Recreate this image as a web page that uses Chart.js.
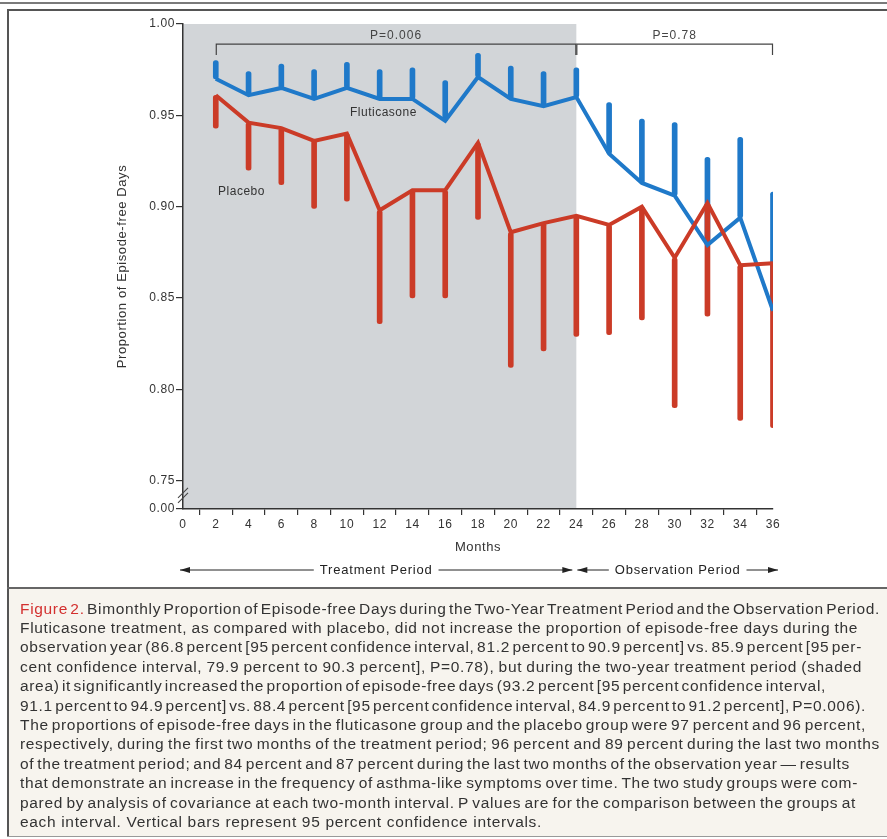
<!DOCTYPE html>
<html><head><meta charset="utf-8">
<script src="https://cdn.jsdelivr.net/npm/chart.js@4.4.0/dist/chart.umd.min.js"></script>
<style>
html,body{margin:0;padding:0;background:#fff;}
#wrap{position:relative;width:887px;height:839px;overflow:hidden;background:#fff;}
#chartBox{position:absolute;left:0;top:0;width:887px;height:588px;}
.rule{position:absolute;background:#555;}
#cap{position:absolute;left:8px;top:589px;width:879px;height:247px;background:#f7f4ee;}
.ln{position:absolute;left:20px;white-space:nowrap;font-family:'Liberation Sans',Arial,sans-serif;font-size:15.5px;line-height:19px;color:#333;}
.ln .red{color:#d3302f;}
</style></head>
<body><div id="wrap">
<div id="chartBox"><canvas id="c"></canvas></div>
<div class="rule" style="left:0;top:2px;width:887px;height:2px;background:#7a7a7a"></div>
<div class="rule" style="left:7px;top:9px;width:880px;height:2px;background:#555"></div>
<div id="cap"></div>
<div class="rule" style="left:7px;top:9px;width:2px;height:828px;background:#555"></div>
<div class="rule" style="left:7px;top:587px;width:880px;height:2px;background:#666"></div>
<div class="rule" style="left:7px;top:836px;width:880px;height:1px;background:#999"></div>
</div>
<script>
// ---- data ----
const months = [2,4,6,8,10,12,14,16,18,20,22,24,26,28,30,32,34,36];
const flutMean  = [0.970,0.961,0.965,0.959,0.965,0.959,0.959,0.947,0.971,0.959,0.955,0.960,0.929,0.913,0.906,0.879,0.894,0.843];
const flutUpper = [0.980,0.974,0.978,0.975,0.979,0.975,0.976,0.969,0.984,0.977,0.974,0.976,0.957,0.948,0.946,0.927,0.938,0.908];
const placMean  = [0.961,0.946,0.943,0.936,0.940,0.898,0.909,0.909,0.935,0.886,0.891,0.895,0.890,0.900,0.872,0.902,0.868,0.869];
const placLower = [0.943,0.920,0.912,0.899,0.903,0.836,0.850,0.850,0.893,0.812,0.821,0.829,0.830,0.838,0.790,0.840,0.783,0.779];
const yTickValues = [0.7345,0.75,0.80,0.85,0.90,0.95,1.00];
const yTickLabels = ['0.00','0.75','0.80','0.85','0.90','0.95','1.00'];
const treatmentSpan = [0,24];
const observationSpan = [24,36];
const pBrackets = [{from:2,to:24,label:'P=0.006'},{from:24,to:36,label:'P=0.78'}];
const seriesNames = ['Fluticasone','Placebo'];
const periodNames = ['Treatment Period','Observation Period'];

const BLUE='#1f79c9', RED='#cb3b27', SHADE='#d2d5d8', INK='#333';

// caption
const capLines = [
 'Bimonthly Proportion of Episode-free Days during the Two-Year Treatment Period and the Observation Period.',
 'Fluticasone treatment, as compared with placebo, did not increase the proportion of episode-free days during the',
 'observation year (86.8 percent [95 percent confidence interval, 81.2 percent to 90.9 percent] vs. 85.9 percent [95 per-',
 'cent confidence interval, 79.9 percent to 90.3 percent], P=0.78), but during the two-year treatment period (shaded',
 'area) it significantly increased the proportion of episode-free days (93.2 percent [95 percent confidence interval,',
 '91.1 percent to 94.9 percent] vs. 88.4 percent [95 percent confidence interval, 84.9 percent to 91.2 percent], P=0.006).',
 'The proportions of episode-free days in the fluticasone group and the placebo group were 97 percent and 96 percent,',
 'respectively, during the first two months of the treatment period; 96 percent and 89 percent during the last two months',
 'of the treatment period; and 84 percent and 87 percent during the last two months of the observation year \u2014 results',
 'that demonstrate an increase in the frequency of asthma-like symptoms over time. The two study groups were com-',
 'pared by analysis of covariance at each two-month interval. P values are for the comparison between the groups at',
 'each interval. Vertical bars represent 95 percent confidence intervals.'
];
const capRight = [880,858,862,862,826,866,866,880,850,858,856,542];
const wrap = document.getElementById('wrap');
const capDivs = capLines.map((t,i)=>{
  const d=document.createElement('div'); d.className='ln';
  d.style.top=(608+19.4*i-9.5)+'px';
  if(i===0){ const s=document.createElement('span'); s.className='red'; s.textContent='Figure 2.'; d.appendChild(s); d.appendChild(document.createTextNode(' '+t)); }
  else d.textContent=t;
  wrap.appendChild(d);
  return d;
});
const lastI = capLines.length-1;
const lastW = capDivs[lastI].getBoundingClientRect().width;
const ls = (capRight[lastI]-20-lastW)/capLines[lastI].length;
capDivs.forEach(d=>{ d.style.letterSpacing = ls+'px'; });
capDivs.forEach((d,i)=>{
  if(i===lastI) return;
  const w=d.getBoundingClientRect().width;
  const full = i===0 ? 'Figure 2. '+capLines[i] : capLines[i];
  const n=(full.match(/ /g)||[]).length;
  d.style.wordSpacing=((capRight[i]-20-w)/n)+'px';
});

const FONT = "'Liberation Sans', Arial, sans-serif";

const decor = {
  id:'decor',
  beforeDraw(chart){
    const {ctx, chartArea:a, scales:{x}} = chart;
    ctx.letterSpacing='0.6px';
    const x0=x.getPixelForValue(treatmentSpan[0]), x1=x.getPixelForValue(treatmentSpan[1]);
    ctx.save(); ctx.fillStyle=SHADE; ctx.fillRect(x0, a.top, x1-x0, a.bottom-a.top); ctx.restore();
  },
  afterDraw(chart){
    const {ctx, chartArea:a, scales:{x,y}} = chart;
    ctx.save();
    // brackets
    ctx.strokeStyle='#444'; ctx.lineWidth=1.2; ctx.fillStyle='#444';
    ctx.font="12px "+FONT; ctx.letterSpacing='1px'; ctx.textAlign='center'; ctx.textBaseline='middle';
    const yb=y.getPixelForValue(0.989), ye=y.getPixelForValue(0.983), yt=y.getPixelForValue(0.9935);
    pBrackets.forEach(b=>{
      const p0=x.getPixelForValue(b.from), p1=x.getPixelForValue(b.to);
      ctx.beginPath(); ctx.moveTo(p0+0.5,ye); ctx.lineTo(p0+0.5,yb); ctx.lineTo(p1-0.5,yb); ctx.lineTo(p1-0.5,ye); ctx.stroke();
      ctx.fillText(b.label,(p0+p1)/2,yt);
    });
    // series labels
    ctx.fillStyle=INK; ctx.font="12px "+FONT; ctx.letterSpacing='0.5px';
    ctx.fillText(seriesNames[0], x.getPixelForValue(12.23), y.getPixelForValue(0.9515));
    ctx.fillText(seriesNames[1], x.getPixelForValue(3.57), y.getPixelForValue(0.9083));
    // axis break
    const bx=a.left, by=y.getPixelForValue(0.742);
    ctx.strokeStyle='#444'; ctx.lineWidth=1.1;
    [-2.5,2.5].forEach(o=>{ ctx.beginPath(); ctx.moveTo(bx-5,by+o+5); ctx.lineTo(bx+5,by+o-5); ctx.stroke(); });
    // period arrows
    const ay=570;
    ctx.font="13px "+FONT; ctx.letterSpacing='0.8px'; ctx.fillStyle='#222'; ctx.strokeStyle='#222'; ctx.lineWidth=1;
    const arrowHead=(tx,dir)=>{ ctx.beginPath(); ctx.moveTo(tx,ay); ctx.lineTo(tx-dir*10,ay-3); ctx.lineTo(tx-dir*10,ay+3); ctx.closePath(); ctx.fill(); };
    const seg=(l,r,label)=>{
      const c=(l+r)/2, w=ctx.measureText(label).width/2+6;
      ctx.fillText(label,c,ay);
      ctx.beginPath(); ctx.moveTo(l,ay); ctx.lineTo(c-w,ay); ctx.moveTo(c+w,ay); ctx.lineTo(r,ay); ctx.stroke();
      arrowHead(l,-1); arrowHead(r,1);
    };
    seg(x.getPixelForValue(treatmentSpan[0])-3, x.getPixelForValue(treatmentSpan[1])-4, periodNames[0]);
    seg(x.getPixelForValue(observationSpan[0])+1, x.getPixelForValue(observationSpan[1])+5, periodNames[1]);
    ctx.restore();
    ctx.letterSpacing='0px';
  }
};

new Chart(document.getElementById('c'), {
  type:'line',
  data:{datasets:[
    {type:'line',label:'Placebo',data:months.map((m,i)=>({x:m,y:placMean[i]})),borderColor:RED,borderWidth:4,pointRadius:0,tension:0,fill:false,order:1,borderJoinStyle:'miter'},
    {type:'line',label:'Fluticasone',data:months.map((m,i)=>({x:m,y:flutMean[i]})),borderColor:BLUE,borderWidth:4,pointRadius:0,tension:0,fill:false,order:2,borderJoinStyle:'miter'},
    {type:'bar',label:'Placebo 95% CI',data:months.map((m,i)=>({x:m,y:[placLower[i],placMean[i]]})),backgroundColor:RED,barThickness:5,grouped:false,borderRadius:2.5,borderSkipped:false,order:3},
    {type:'bar',label:'Fluticasone 95% CI',data:months.map((m,i)=>({x:m,y:[flutMean[i],flutUpper[i]]})),backgroundColor:BLUE,barThickness:5,grouped:false,borderRadius:2.5,borderSkipped:false,order:4}
  ]},
  options:{
    responsive:true, maintainAspectRatio:false, animation:false,
    layout:{padding:{left:110,right:114,top:24,bottom:30}},
    plugins:{legend:{display:false},tooltip:{enabled:false}},
    scales:{
      x:{type:'linear',min:0,max:36,offset:false,
        afterFit:s=>{s.height=49;},
        ticks:{stepSize:2,color:INK,font:{size:12,family:FONT},padding:2,maxRotation:0,autoSkip:false},
        grid:{display:true,drawOnChartArea:false,drawTicks:true,tickLength:6,color:'#333',lineWidth:1.2},
        border:{display:true,color:'#333',width:1.5},
        title:{display:true,text:'Months',color:INK,font:{size:13,family:FONT},padding:3}},
      y:{type:'linear',min:0.7345,max:1.0,beginAtZero:false,
        afterFit:s=>{s.width=73;},
        afterBuildTicks:s=>{s.ticks=yTickValues.map(v=>({value:v}));},
        ticks:{color:INK,font:{size:12,family:FONT},padding:1,callback:(v,i)=>yTickLabels[i]},
        grid:{display:true,drawOnChartArea:false,drawTicks:true,tickLength:7,color:'#333',lineWidth:1.2},
        border:{display:true,color:'#333',width:1.5},
        title:{display:true,text:'Proportion of Episode-free Days',color:INK,font:{size:13,family:FONT},padding:5}}
    }
  },
  plugins:[decor]
});
</script>
</body></html>
